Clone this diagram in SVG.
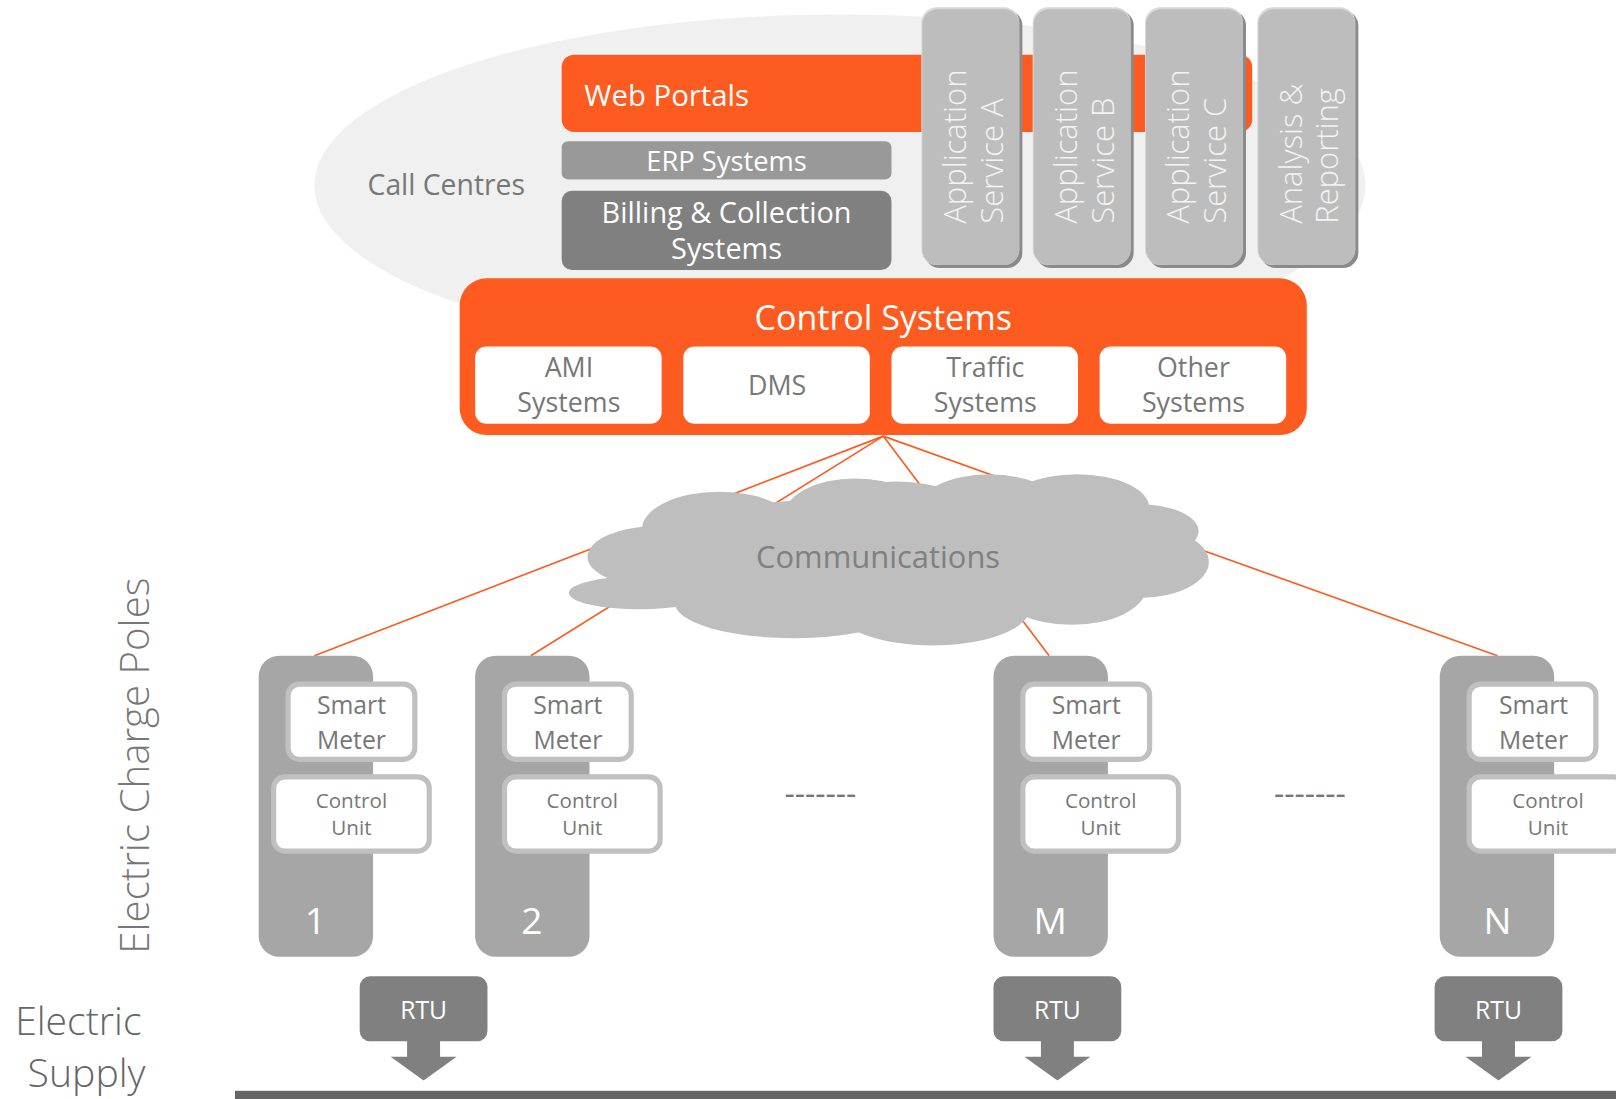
<svg xmlns="http://www.w3.org/2000/svg" width="1616" height="1099" viewBox="0 0 1616 1099">
<style>
text{font-family:"Open Sans","Noto Sans","Liberation Sans",sans-serif}
.or{fill:#fd5b20}
.w{fill:#ffffff}
.app{fill:#bdbdbd}
.appsh{fill:#8a8a8a}
.apphl{fill:#d8d8d8}
.appt{fill:#f4f4f4;font-size:30px;font-weight:300}
.sub{fill:#ffffff}
.subt{fill:#777777;font-size:26px;text-anchor:middle}
.pole{fill:#a6a6a6}
.box{fill:#ffffff;stroke:#c0c0c0;stroke-width:5}
.smt{fill:#777777;font-size:24px;text-anchor:middle}
.cut{fill:#777777;font-size:20px;text-anchor:middle}
.num{fill:#ffffff;font-size:36px;text-anchor:middle}
.rtu{fill:#808080}
.rtut{fill:#ffffff;font-size:24px;text-anchor:middle}
.conn{stroke:#fd5b20;stroke-width:1.6;fill:none}
.cloud{fill:#bebebe}
.dash{fill:#777777;font-size:31px;text-anchor:middle}
</style>
<rect width="1616" height="1099" fill="#ffffff"/>
<g transform="scale(1.0306 1.031)">
  <ellipse id="bg-ellipse" cx="815" cy="180" rx="510" ry="166" fill="#f0f0f0"/>

  <g id="call-centres"><text x="433" y="189" font-size="27.5" fill="#777777" text-anchor="middle">Call Centres</text></g>

  <g id="web-portals">
    <rect x="545" y="53" width="670" height="75" rx="12" class="or"/>
    <text x="567" y="103" font-size="28.5" class="w">Web Portals</text>
  </g>
  <g id="erp">
    <rect x="545" y="137" width="320" height="37" rx="6" fill="#999999"/>
    <text x="705" y="166" font-size="26.5" class="w" text-anchor="middle">ERP Systems</text>
  </g>
  <g id="billing">
    <rect x="545" y="185" width="320" height="77" rx="10" fill="#808080"/>
    <text x="705" y="216" font-size="28" class="w" text-anchor="middle">Billing &amp; Collection</text>
    <text x="705" y="251" font-size="28" class="w" text-anchor="middle">Systems</text>
  </g>

  <g id="app-a">
    <rect x="897" y="10" width="95" height="250" rx="15" class="appsh"/>
    <rect x="894" y="7" width="95" height="250" rx="15" class="apphl"/>
    <rect x="895" y="9" width="94" height="248" rx="15" class="app"/>
    <text class="appt" transform="translate(937 217) rotate(-90)">Application</text>
    <text class="appt" transform="translate(973 217) rotate(-90)">Service A</text>
  </g>
  <g id="app-b">
    <rect x="1005" y="10" width="95" height="250" rx="15" class="appsh"/>
    <rect x="1002" y="7" width="95" height="250" rx="15" class="apphl"/>
    <rect x="1003" y="9" width="94" height="248" rx="15" class="app"/>
    <text class="appt" transform="translate(1045 217) rotate(-90)">Application</text>
    <text class="appt" transform="translate(1081 217) rotate(-90)">Service B</text>
  </g>
  <g id="app-c">
    <rect x="1114" y="10" width="95" height="250" rx="15" class="appsh"/>
    <rect x="1111" y="7" width="95" height="250" rx="15" class="apphl"/>
    <rect x="1112" y="9" width="94" height="248" rx="15" class="app"/>
    <text class="appt" transform="translate(1154 217) rotate(-90)">Application</text>
    <text class="appt" transform="translate(1190 217) rotate(-90)">Service C</text>
  </g>
  <g id="analysis">
    <rect x="1223" y="10" width="95" height="250" rx="15" class="appsh"/>
    <rect x="1220" y="7" width="95" height="250" rx="15" class="apphl"/>
    <rect x="1221" y="9" width="94" height="248" rx="15" class="app"/>
    <text class="appt" transform="translate(1263 217) rotate(-90)">Analysis &amp;</text>
    <text class="appt" transform="translate(1298 217) rotate(-90)">Reporting</text>
  </g>

  <g id="connectors">
    <line class="conn" x1="857" y1="423" x2="305" y2="636"/>
    <line class="conn" x1="857" y1="423" x2="515" y2="636"/>
    <line class="conn" x1="857" y1="423" x2="1018" y2="636"/>
    <line class="conn" x1="857" y1="423" x2="1453" y2="636"/>
  </g>

  <g id="control-systems">
    <rect x="446" y="270" width="822" height="152" rx="26" class="or"/>
    <text x="857" y="320" font-size="33" class="w" text-anchor="middle">Control Systems</text>
    <g id="ami">
      <rect x="461" y="336" width="181" height="75" rx="11" class="sub"/>
      <text x="552" y="366" class="subt">AMI</text>
      <text x="552" y="400" class="subt">Systems</text>
    </g>
    <g id="dms">
      <rect x="663" y="336" width="181" height="75" rx="11" class="sub"/>
      <text x="754" y="383" class="subt">DMS</text>
    </g>
    <g id="traffic">
      <rect x="865" y="336" width="181" height="75" rx="11" class="sub"/>
      <text x="956" y="366" class="subt">Traffic</text>
      <text x="956" y="400" class="subt">Systems</text>
    </g>
    <g id="other">
      <rect x="1067" y="336" width="181" height="75" rx="11" class="sub"/>
      <text x="1158" y="366" class="subt">Other</text>
      <text x="1158" y="400" class="subt">Systems</text>
    </g>
  </g>

  <g id="communications">
    <g class="cloud">
      <ellipse cx="860" cy="540" rx="262" ry="58"/>
      <ellipse cx="698" cy="513" rx="75" ry="36"/>
      <ellipse cx="660" cy="522" rx="40" ry="22"/>
      <ellipse cx="830" cy="502" rx="70" ry="38"/>
      <ellipse cx="870" cy="505" rx="80" ry="38"/>
      <ellipse cx="960" cy="497" rx="72" ry="37"/>
      <ellipse cx="1045" cy="492" rx="70" ry="32"/>
      <ellipse cx="1105" cy="515" rx="58" ry="26"/>
      <ellipse cx="1105" cy="545" rx="68" ry="35"/>
      <ellipse cx="640" cy="540" rx="70" ry="30"/>
      <ellipse cx="620" cy="575" rx="68" ry="16"/>
      <ellipse cx="770" cy="585" rx="115" ry="34"/>
      <ellipse cx="905" cy="589" rx="95" ry="37"/>
      <ellipse cx="1040" cy="570" rx="72" ry="36"/>
    </g>
    <text x="852" y="551" font-size="30" fill="#808080" text-anchor="middle">Communications</text>
  </g>

  <g id="pole-1">
    <rect x="251" y="636" width="111" height="292" rx="20" class="pole"/>
    <rect x="279.5" y="663.5" width="123" height="73" rx="11" class="box"/>
    <text x="341" y="693" class="smt">Smart</text>
    <text x="341" y="726" class="smt">Meter</text>
    <rect x="265.5" y="753.5" width="151" height="72" rx="11" class="box"/>
    <text x="341" y="784" class="cut">Control</text>
    <text x="341" y="810" class="cut">Unit</text>
    <text x="306" y="906" class="num">1</text>
  </g>
  <g id="pole-2">
    <rect x="461" y="636" width="111" height="292" rx="20" class="pole"/>
    <rect x="489.5" y="663.5" width="123" height="73" rx="11" class="box"/>
    <text x="551" y="693" class="smt">Smart</text>
    <text x="551" y="726" class="smt">Meter</text>
    <rect x="489.5" y="753.5" width="151" height="72" rx="11" class="box"/>
    <text x="565" y="784" class="cut">Control</text>
    <text x="565" y="810" class="cut">Unit</text>
    <text x="516" y="906" class="num">2</text>
  </g>
  <g id="pole-m">
    <rect x="964" y="636" width="111" height="292" rx="20" class="pole"/>
    <rect x="992.5" y="663.5" width="123" height="73" rx="11" class="box"/>
    <text x="1054" y="693" class="smt">Smart</text>
    <text x="1054" y="726" class="smt">Meter</text>
    <rect x="992.5" y="753.5" width="151" height="72" rx="11" class="box"/>
    <text x="1068" y="784" class="cut">Control</text>
    <text x="1068" y="810" class="cut">Unit</text>
    <text x="1019" y="906" class="num">M</text>
  </g>
  <g id="pole-n">
    <rect x="1397" y="636" width="111" height="292" rx="20" class="pole"/>
    <rect x="1425.5" y="663.5" width="123" height="73" rx="11" class="box"/>
    <text x="1488" y="693" class="smt">Smart</text>
    <text x="1488" y="726" class="smt">Meter</text>
    <rect x="1425.5" y="753.5" width="151" height="72" rx="11" class="box"/>
    <text x="1502" y="784" class="cut">Control</text>
    <text x="1502" y="810" class="cut">Unit</text>
    <text x="1453" y="906" class="num">N</text>
  </g>

  <text x="796" y="781" class="dash">-------</text>
  <text x="1271" y="781" class="dash">-------</text>

  <g id="rtu-1">
    <rect x="349" y="947" width="124" height="63" rx="10" class="rtu"/>
    <path d="M395 1008 H427 V1025 H443 L411 1048 L379 1025 H395 Z" class="rtu"/>
    <text x="411" y="988" class="rtut">RTU</text>
  </g>
  <g id="rtu-m">
    <rect x="964" y="947" width="124" height="63" rx="10" class="rtu"/>
    <path d="M1010 1008 H1042 V1025 H1058 L1026 1048 L994 1025 H1010 Z" class="rtu"/>
    <text x="1026" y="988" class="rtut">RTU</text>
  </g>
  <g id="rtu-n">
    <rect x="1392" y="947" width="124" height="63" rx="10" class="rtu"/>
    <path d="M1438 1008 H1470 V1025 H1486 L1454 1048 L1422 1025 H1438 Z" class="rtu"/>
    <text x="1454" y="988" class="rtut">RTU</text>
  </g>

  <rect id="supply-line" x="228" y="1058" width="1345" height="9" fill="#666666"/>

  <text transform="translate(145 925) rotate(-90)" font-size="39" font-weight="300" fill="#777777">Electric Charge Poles</text>
  <text x="76" y="1004" font-size="38" font-weight="300" fill="#666666" text-anchor="middle">Electric</text>
  <text x="84" y="1054" font-size="38" font-weight="300" fill="#666666" text-anchor="middle">Supply</text>
</g>
</svg>
